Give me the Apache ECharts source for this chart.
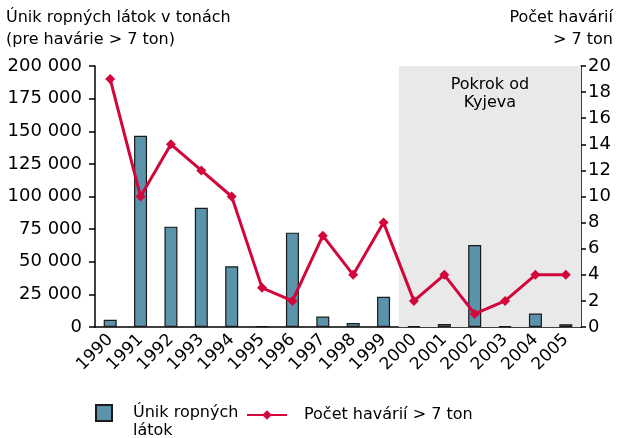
<!DOCTYPE html>
<html>
<head>
<meta charset="utf-8">
<script src="https://cdn.jsdelivr.net/npm/echarts@6/dist/echarts.min.js"></script>
<style>
    html, body { margin: 0; padding: 0; background: #fff; }
    #chart { width: 617px; height: 438px; }
</style>
</head>
<body>
<div id="chart"></div>
<script>
const years = ['1990', '1991', '1992', '1993', '1994', '1995', '1996', '1997',
               '1998', '1999', '2000', '2001', '2002', '2003', '2004', '2005'];
// únik ropných látok (t)
const spills = [5500, 146500, 76900, 91300, 46500, 500, 72300, 8000,
                3100, 23100, 500, 2300, 62800, 500, 10300, 2100];
// počet havárií > 7 ton
const accidents = [19, 10, 14, 12, 10, 3, 2, 7, 4, 8, 2, 4, 1, 2, 4, 4];
// shaded period starts at 2000 (index 10)
const kyivStart = 10;

const FONT = 'DejaVu Sans';
const BAR = '#5b93aa';
const LINE = '#d3063c';

const chart = echarts.init(document.getElementById('chart'));
chart.setOption({
    backgroundColor: '#fff',
    animation: false,
    textStyle: { fontFamily: FONT, color: '#000' },
    grid: { left: 95, right: 36, top: 66, bottom: 111, containLabel: false },
    graphic: [
        {
            type: 'text', x: 6, y: 7,
            style: { text: 'Únik ropných látok v tonách\n(pre havárie > 7 ton)', font: '16px ' + FONT, fill: '#000', lineHeight: 22 }
        },
        {
            type: 'text', x: 613, y: 7,
            style: { text: 'Počet havárií\n> 7 ton', font: '16px ' + FONT, fill: '#000', align: 'right', lineHeight: 22 }
        }
    ],
    legend: [
        {
            left: 90, top: 381,
            itemWidth: 16, itemHeight: 16,
            data: [{ name: 'Únik ropných látok', icon: 'rect' }],
            // empty first line keeps the first text line level with the icon
            formatter: function () { return '\nÚnik ropných\nlátok'; },
            textStyle: { fontFamily: FONT, fontSize: 16, color: '#000', padding: [0, 0, 0, 16], lineHeight: 18 }
        },
        {
            left: 241, top: 402,
            itemWidth: 40, itemHeight: 12,
            data: ['Počet havárií > 7 ton'],
            textStyle: { fontFamily: FONT, fontSize: 16, color: '#000', padding: [0, 0, 0, 12] }
        }
    ],
    xAxis: [
        {
            type: 'category',
            data: years,
            axisLine: { lineStyle: { color: '#000', width: 1.5 } },
            axisTick: { length: 5, lineStyle: { color: '#000', width: 1.5 } },
            axisLabel: { interval: 0, rotate: 45, fontSize: 17, color: '#000', margin: 10, fontFamily: FONT }
        },
        {
            type: 'value', min: 0, max: years.length, show: false
        }
    ],
    yAxis: [
        {
            type: 'value', min: 0, max: 200000, interval: 25000,
            position: 'left',
            splitLine: { show: false },
            axisLine: { show: true, lineStyle: { color: '#000', width: 1.5 } },
            axisTick: { show: true, length: 6, lineStyle: { color: '#000', width: 1.5 } },
            axisLabel: {
                fontSize: 18, color: '#000', margin: 13, fontFamily: FONT,
                formatter: function (v) { return String(v).replace(/\B(?=(\d{3})+(?!\d))/g, ' '); }
            }
        },
        {
            type: 'value', min: 0, max: 20, interval: 2,
            position: 'right',
            splitLine: { show: false },
            axisLine: { show: true, lineStyle: { color: '#000', width: 1.5 } },
            axisTick: { show: true, length: 5, lineStyle: { color: '#000', width: 1.5 } },
            axisLabel: { fontSize: 18, color: '#000', margin: 7, fontFamily: FONT }
        }
    ],
    series: [
        {
            // shaded period after Kyiv
            name: 'kyjev',
            type: 'line',
            xAxisIndex: 1,
            yAxisIndex: 1,
            data: [],
            silent: true,
            markArea: {
                silent: true,
                itemStyle: { color: '#e9e9e9' },
                label: {
                    show: true, position: 'insideTop', distance: 10,
                    fontFamily: FONT, fontSize: 16, color: '#000', lineHeight: 18
                },
                data: [[
                    { name: 'Pokrok od\nKyjeva', xAxis: kyivStart, yAxis: 0 },
                    { xAxis: years.length, yAxis: 20 }
                ]]
            },
            z: 0
        },
        {
            name: 'Únik ropných látok',
            type: 'bar',
            data: spills,
            barWidth: 13,
            itemStyle: { color: BAR, borderColor: '#1a1a1a', borderWidth: 1.2 },
            z: 2
        },
        {
            name: 'Počet havárií > 7 ton',
            type: 'line',
            yAxisIndex: 1,
            data: accidents,
            symbol: 'diamond',
            symbolSize: 10,
            lineStyle: { color: LINE, width: 3 },
            itemStyle: { color: LINE },
            z: 3
        }
    ]
});
</script>
</body>
</html>
